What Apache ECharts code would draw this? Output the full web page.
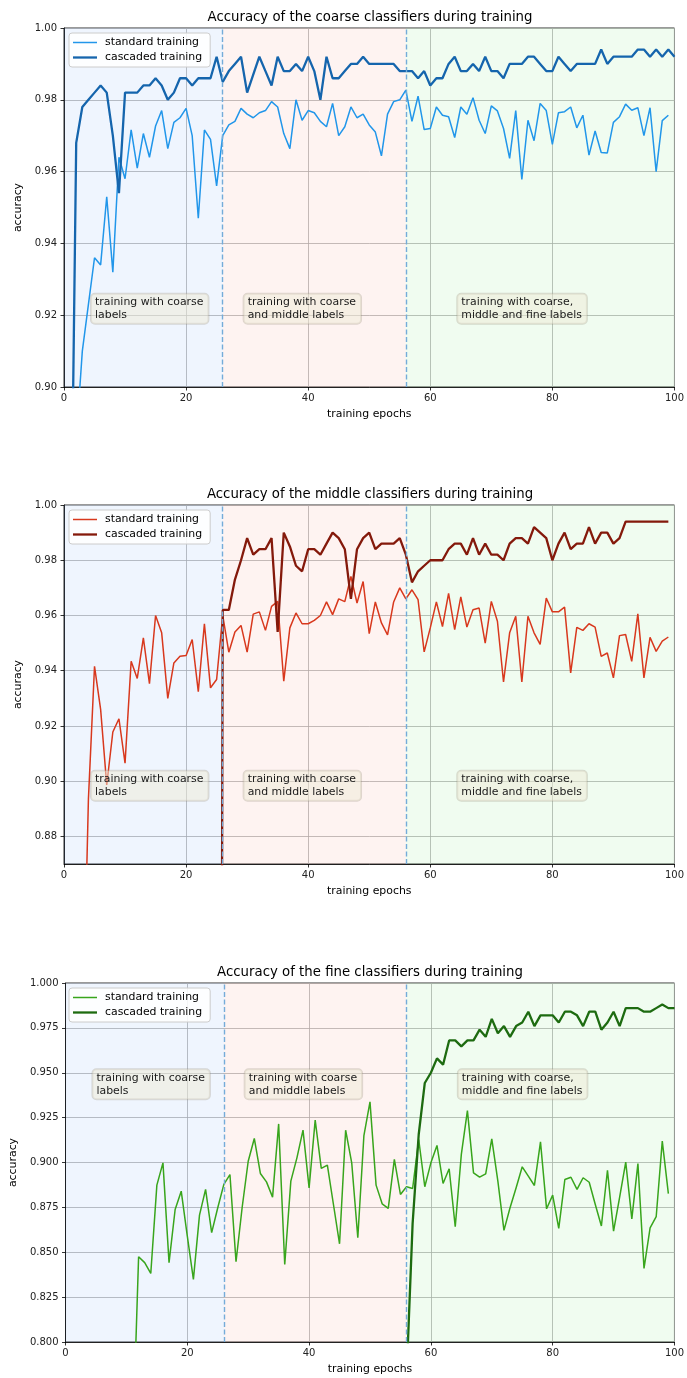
<!DOCTYPE html>
<html>
<head>
<meta charset="utf-8">
<script src="https://cdn.jsdelivr.net/npm/echarts@6.0.0/dist/echarts.min.js"></script>
<style>
  html, body { margin: 0; padding: 0; background: #fff; overflow: hidden; }
  .chart { position: absolute; left: 0; width: 687px; height: 425px; }
</style>
</head>
<body>
<div id="coarse" class="chart" style="top:0px"></div>
<div id="middle" class="chart" style="top:477px"></div>
<div id="fine" class="chart" style="top:955px"></div>
<script>
// shared x axis and training phases
const xTicks = [0, 20, 40, 60, 80, 100];
const phaseEdges = [0, 26, 56, 100];
const phaseLabels = ['training with coarse\nlabels', 'training with coarse\nand middle labels', 'training with coarse,\nmiddle and fine labels'];
const phaseLabelX = [5, 30, 65];

// coarse classifiers
const coarseTicks = [0.90, 0.92, 0.94, 0.96, 0.98, 1.00];
const coarseStdStart = 2;
const coarseStd = [0.885, 0.910, 0.923, 0.936, 0.934, 0.953, 0.932, 0.964, 0.958, 0.9716,
  0.961, 0.9706, 0.964, 0.9727, 0.977, 0.9664, 0.9737, 0.975, 0.9776, 0.970,
  0.947, 0.9716, 0.969, 0.956, 0.970, 0.973, 0.974, 0.9776, 0.976, 0.975,
  0.9764, 0.977, 0.9795, 0.978, 0.9706, 0.9664, 0.980, 0.9743, 0.977, 0.9764,
  0.974, 0.9725, 0.979, 0.970, 0.9725, 0.978, 0.975, 0.976, 0.973, 0.971,
  0.9644, 0.976, 0.9795, 0.980, 0.9827, 0.974, 0.981, 0.9717, 0.972, 0.978,
  0.9757, 0.9753, 0.9695, 0.978, 0.976, 0.9806, 0.9743, 0.9706, 0.9783, 0.9769,
  0.972, 0.9637, 0.977, 0.9578, 0.9743, 0.9686, 0.979, 0.977, 0.9676, 0.9764,
  0.9767, 0.978, 0.9722, 0.9757, 0.9646, 0.9713, 0.9653, 0.9652, 0.9737, 0.9753,
  0.9788, 0.9771, 0.9778, 0.970, 0.9778, 0.960, 0.9742, 0.9757];
const coarseCasStart = 1;
const coarseCas = [0.83, 0.968, 0.978, 0.980, 0.982, 0.984, 0.982, 0.970, 0.954, 0.982,
  0.982, 0.982, 0.984, 0.984, 0.986, 0.984, 0.980, 0.982, 0.986, 0.986,
  0.984, 0.986, 0.986, 0.986, 0.992, 0.985, 0.988, 0.990, 0.992, 0.982,
  0.987, 0.992, 0.988, 0.984, 0.992, 0.988, 0.988, 0.990, 0.988, 0.992,
  0.988, 0.980, 0.992, 0.986, 0.986, 0.988, 0.990, 0.990, 0.992, 0.990,
  0.990, 0.990, 0.990, 0.990, 0.988, 0.988, 0.988, 0.986, 0.988, 0.984,
  0.986, 0.986, 0.990, 0.992, 0.988, 0.988, 0.990, 0.988, 0.992, 0.988,
  0.988, 0.986, 0.990, 0.990, 0.990, 0.992, 0.992, 0.990, 0.988, 0.988,
  0.992, 0.990, 0.988, 0.990, 0.990, 0.990, 0.990, 0.994, 0.990, 0.992,
  0.992, 0.992, 0.992, 0.994, 0.994, 0.992, 0.994, 0.992, 0.994, 0.992];

// middle classifiers
const middleTicks = [0.88, 0.90, 0.92, 0.94, 0.96, 0.98, 1.00];
const middleStdStart = 3;
const middleStd = [0.80, 0.8935, 0.9416, 0.926, 0.8986, 0.9178, 0.9226, 0.9065, 0.9434, 0.9372,
  0.9519, 0.9353, 0.960, 0.9537, 0.930, 0.9428, 0.9452, 0.9455, 0.9513, 0.9324,
  0.957, 0.9338, 0.9368, 0.960, 0.9467, 0.954, 0.9564, 0.9467, 0.9605, 0.9613,
  0.9546, 0.9633, 0.9651, 0.9362, 0.9555, 0.9609, 0.957, 0.957, 0.9582, 0.960,
  0.9649, 0.9603, 0.966, 0.965, 0.9741, 0.9645, 0.9723, 0.9534, 0.9649, 0.9573,
  0.953, 0.9649, 0.970, 0.966, 0.9693, 0.9657, 0.9468, 0.9555, 0.9649, 0.956,
  0.968, 0.9549, 0.9667, 0.9558, 0.9621, 0.9627, 0.950, 0.9651, 0.9579, 0.9359,
  0.9537, 0.9597, 0.9359, 0.9597, 0.9537, 0.9495, 0.9663, 0.9613, 0.9613, 0.963,
  0.9392, 0.9557, 0.9546, 0.957, 0.9558, 0.9452, 0.9464, 0.9374, 0.9527, 0.9531,
  0.9434, 0.9606, 0.9374, 0.9521, 0.947, 0.9507, 0.9522];
const middleCasStart = 25;
const middleCas = [0.10, 0.962, 0.962, 0.973, 0.980, 0.988, 0.982, 0.984, 0.984, 0.988,
  0.954, 0.990, 0.985, 0.978, 0.976, 0.984, 0.984, 0.982, 0.986, 0.990,
  0.988, 0.984, 0.966, 0.984, 0.988, 0.990, 0.984, 0.986, 0.986, 0.986,
  0.988, 0.982, 0.972, 0.976, 0.978, 0.980, 0.980, 0.980, 0.984, 0.986,
  0.986, 0.982, 0.988, 0.982, 0.986, 0.982, 0.982, 0.980, 0.986, 0.988,
  0.988, 0.986, 0.992, 0.990, 0.988, 0.980, 0.986, 0.990, 0.984, 0.986,
  0.986, 0.992, 0.986, 0.990, 0.990, 0.986, 0.988, 0.994, 0.994, 0.994,
  0.994, 0.994, 0.994, 0.994, 0.994];

// fine classifiers
const fineTicks = [0.800, 0.825, 0.850, 0.875, 0.900, 0.925, 0.950, 0.975, 1.000];
const fineStdStart = 11;
const fineStd = [0.74, 0.8475, 0.8442, 0.8382, 0.8874, 0.8998, 0.8442, 0.8738, 0.884, 0.859,
  0.8349, 0.8707, 0.885, 0.8609, 0.8748, 0.8878, 0.8933, 0.8447, 0.8748, 0.9007,
  0.9134, 0.8939, 0.8892, 0.8807, 0.9215, 0.8432, 0.8896, 0.9026, 0.918, 0.8859,
  0.9236, 0.8967, 0.8985, 0.8766, 0.8547, 0.918, 0.8998, 0.8581, 0.915, 0.9338,
  0.8874, 0.877, 0.8744, 0.9017, 0.8822, 0.8865, 0.8855, 0.9128, 0.8865, 0.8998,
  0.9095, 0.8883, 0.8965, 0.8642, 0.9045, 0.9289, 0.8942, 0.8918, 0.8937, 0.9132,
  0.8896, 0.8622, 0.8748, 0.8859, 0.8976, 0.8924, 0.8872, 0.9115, 0.8742, 0.8818,
  0.8633, 0.8905, 0.8918, 0.885, 0.8915, 0.889, 0.8766, 0.8646, 0.8957, 0.8618,
  0.8807, 0.9002, 0.8686, 0.8994, 0.841, 0.8636, 0.8698, 0.9119, 0.8827];
const fineCasStart = 56;
const fineCas = [0.78, 0.866, 0.9156, 0.9443, 0.950, 0.958, 0.9545, 0.968, 0.968, 0.9647,
  0.968, 0.968, 0.974, 0.970, 0.980, 0.972, 0.976, 0.970, 0.976, 0.978,
  0.984, 0.976, 0.982, 0.982, 0.982, 0.978, 0.984, 0.984, 0.982, 0.976,
  0.984, 0.984, 0.974, 0.978, 0.984, 0.976, 0.986, 0.986, 0.986, 0.984,
  0.984, 0.986, 0.988, 0.986, 0.986];

function pairs(start, values) {
  return values.map((v, i) => [start + i, v]);
}

function drawPanel(id, p) {
  const chart = echarts.init(document.getElementById(id));
  const bandColors = ['rgba(30,110,240,0.07)', 'rgba(240,90,50,0.07)', 'rgba(60,220,60,0.08)'];
  const bands = [];
  for (let i = 0; i < phaseEdges.length - 1; i++) {
    bands.push([{ xAxis: phaseEdges[i], itemStyle: { color: bandColors[i] } }, { xAxis: phaseEdges[i + 1] }]);
  }
  const isTick = v => p.yTicks.some(t => Math.abs(t - v) < 1e-6);
  const font = 'DejaVu Sans';

  chart.setOption({
    animation: false,
    textStyle: { fontFamily: font },
    title: {
      text: p.title, left: 365, top: 6, textAlign: 'center',
      textStyle: { fontSize: 13.3, fontWeight: 'normal', color: '#000', fontFamily: font }
    },
    legend: {
      orient: 'vertical', left: 69, top: 33,
      padding: [4, 8, 4, 4], itemWidth: 24, itemHeight: 12, itemGap: 4,
      backgroundColor: 'rgba(255,255,255,0.85)', borderColor: '#cccccc', borderWidth: 1, borderRadius: 3,
      textStyle: { fontSize: 10.9, color: '#000', fontFamily: font, padding: [0, 0, 0, 3] },
      data: [
        { name: 'standard training', icon: 'path://M0,0L24,0L24,1.5L0,1.5Z' },
        { name: 'cascaded training', icon: 'path://M0,0L24,0L24,2.3L0,2.3Z' }
      ]
    },
    grid: { left: 64, right: 8, top: 28, height: 359, show: true, borderColor: '#000', borderWidth: 0.8, backgroundColor: 'transparent' },
    xAxis: {
      type: 'value', min: xTicks[0], max: xTicks[xTicks.length - 1], interval: 20,
      name: 'training epochs', nameLocation: 'middle', nameGap: 22,
      nameTextStyle: { fontSize: 10.9, color: '#000', fontFamily: font },
      axisLine: { show: true, lineStyle: { color: '#000', width: 0.8 } },
      axisTick: { show: true, length: 3.5, lineStyle: { color: '#000', width: 0.8 } },
      axisLabel: { fontSize: 10, color: '#222', margin: 6, fontFamily: font },
      splitLine: { show: true, lineStyle: { color: '#b0b0b0', width: 0.8 } }
    },
    yAxis: {
      type: 'value', min: p.yTicks[0] - p.yBelow, max: p.yTicks[p.yTicks.length - 1],
      interval: p.interval, splitNumber: p.splitNumber,
      name: 'accuracy', nameLocation: 'middle', nameGap: 36,
      nameTextStyle: { fontSize: 10.9, color: '#000', fontFamily: font },
      axisLine: { show: true, lineStyle: { color: '#000', width: 0.8 } },
      axisTick: { show: true, length: 3.5, lineStyle: { color: '#000', width: 0.8 }, customValues: p.yTicks },
      axisLabel: {
        fontSize: 10, color: '#222', margin: 7, fontFamily: font, customValues: p.yTicks,
        formatter: v => isTick(v) ? v.toFixed(p.digits) : ''
      },
      splitLine: { show: true, lineStyle: { color: '#b0b0b0', width: 0.8 } }
    },
    series: [
      {
        name: 'standard training', type: 'line', data: p.std, showSymbol: false, symbol: 'none', clip: true,
        lineStyle: { color: p.stdColor, width: 1.5 }, itemStyle: { color: p.stdColor }, z: 3,
        markArea: { silent: true, data: bands },
        markPoint: {
          silent: true, symbol: 'rect', symbolSize: 1, itemStyle: { color: 'rgba(0,0,0,0)' },
          data: phaseLabelX.map((x, i) => ({ coord: [x, p.annY], name: phaseLabels[i] })),
          label: {
            show: true, formatter: '{b}', position: [-3, -3], align: 'left', verticalAlign: 'top',
            fontSize: 10.9, lineHeight: 13, color: '#1a1a1a', fontFamily: font,
            backgroundColor: 'rgba(240,235,215,0.5)', borderColor: 'rgba(150,140,120,0.3)', borderWidth: 1,
            borderRadius: 4, padding: [2, 5, 2, 4]
          }
        }
      },
      {
        name: 'cascaded training', type: 'line', data: p.cas, showSymbol: false, symbol: 'none', clip: true,
        lineStyle: { color: p.casColor, width: 2.3 }, itemStyle: { color: p.casColor }, z: 4,
        markLine: {
          silent: true, symbol: ['none', 'none'], label: { show: false },
          lineStyle: { color: '#74acd9', type: [5, 2.5], width: 1.4 },
          data: [{ xAxis: phaseEdges[1] }, { xAxis: phaseEdges[2] }]
        }
      }
    ]
  });
}

drawPanel('coarse', {
  title: 'Accuracy of the coarse classifiers during training',
  yTicks: coarseTicks, yBelow: 0, interval: 0.02, digits: 2, annY: 0.925,
  std: pairs(coarseStdStart, coarseStd), cas: pairs(coarseCasStart, coarseCas),
  stdColor: '#2196ea', casColor: '#1565ad'
});
drawPanel('middle', {
  title: 'Accuracy of the middle classifiers during training',
  yTicks: middleTicks, yBelow: 0.01, splitNumber: 6, digits: 2, annY: 0.9025,
  std: pairs(middleStdStart, middleStd), cas: pairs(middleCasStart, middleCas),
  stdColor: '#d8381d', casColor: '#84190b'
});
drawPanel('fine', {
  title: 'Accuracy of the fine classifiers during training',
  yTicks: fineTicks, yBelow: 0, interval: 0.025, digits: 3, annY: 0.950,
  std: pairs(fineStdStart, fineStd), cas: pairs(fineCasStart, fineCas),
  stdColor: '#38a51c', casColor: '#1d6b10'
});
</script>
</body>
</html>
